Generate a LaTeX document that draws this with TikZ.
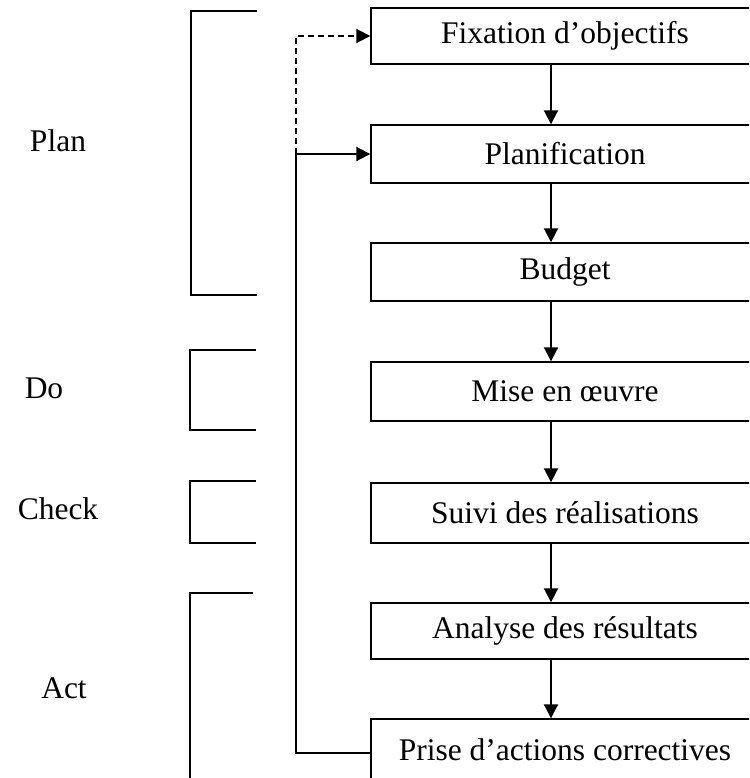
\documentclass[tikz,border=0pt]{standalone}
\usepackage{fontspec}
\setmainfont{Liberation Serif}
\usetikzlibrary{arrows.meta}
\begin{document}
\begin{tikzpicture}[x=1pt,y=-1pt,
  every node/.style={font=\fontsize{31.5}{38}\selectfont},
  stepbox/.style={draw,line width=1.4pt,rectangle,minimum width=388pt,inner sep=0pt},
  flow/.style={line width=2pt,-{Triangle[length=14pt,width=14pt]}},
  brace/.style={line width=2pt},
  phase/.style={inner sep=0pt}]
\useasboundingbox (0,0) rectangle (749,778);
\begin{scope}
\clip (0,0) rectangle (749,778);
% process steps
\node[stepbox,minimum height=56pt] (fix) at (565,36) {Fixation d’objectifs};
\node[stepbox,minimum height=58pt] (plan) at (565,154) {Planification};
\node[stepbox,minimum height=58pt] (bud) at (565,272) {Budget};
\node[stepbox,minimum height=59pt] (mise) at (565,391.5) {Mise en œuvre};
\node[stepbox,minimum height=60pt] (suivi) at (565,513) {Suivi des réalisations};
\node[stepbox,minimum height=56pt] (ana) at (565,631) {Analyse des résultats};
\node[stepbox,minimum height=62pt] (prise) at (565,750) {Prise d’actions correctives};
\end{scope}
% column of the downward arrows
\coordinate (col) at (551,0);
\draw[flow] (fix.south -| col) -- (plan.north -| col);
\draw[flow] (plan.south -| col) -- (bud.north -| col);
\draw[flow] (bud.south -| col) -- (mise.north -| col);
\draw[flow] (mise.south -| col) -- (suivi.north -| col);
\draw[flow] (suivi.south -| col) -- (ana.north -| col);
\draw[flow] (ana.south -| col) -- (prise.north -| col);
% feedback loop
\coordinate (fbx) at (296,0);
\coordinate (fbout) at (371,753);
\coordinate (fbin) at (296,154);
\draw[line width=2pt] (fbout) -- (fbout -| fbx) -- (fbin);
\draw[flow] (fbin) -- (plan.west);
\draw[flow,dash pattern=on 6pt off 4pt] (fbin) -- (fbx |- fix.west) -- (fix.west);
% phase labels
\node[phase] (lplan) at (58,141) {Plan};
\node[phase] (ldo) at (44,388) {Do};
\node[phase] (lcheck) at (58,509) {Check};
\node[phase] (lact) at (64,688) {Act};
% phase brackets
\draw[brace] (257,11) -- (191,11) -- (191,295) -- (257,295);
\draw[brace] (256,350) -- (190,350) -- (190,430) -- (256,430);
\draw[brace] (256,481) -- (190,481) -- (190,543) -- (256,543);
\draw[brace] (253,593) -- (190,593) -- (190,780);
\end{tikzpicture}
\end{document}
